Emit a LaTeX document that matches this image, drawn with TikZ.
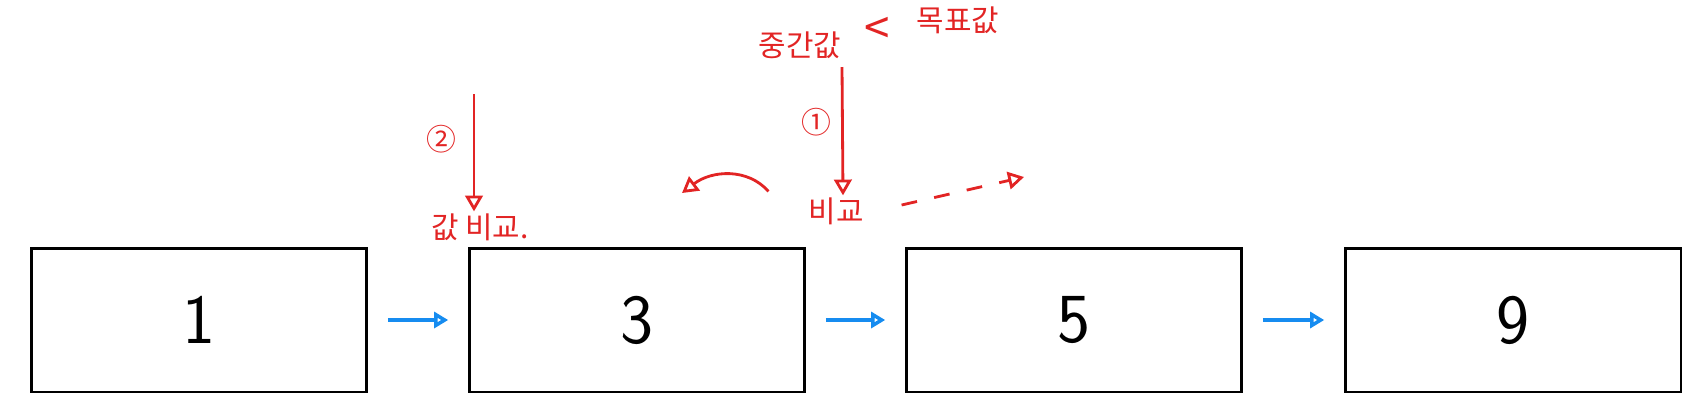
\documentclass[tikz,border=0pt]{standalone}
\usepackage{fontspec}
\newfontfamily\kofont{Noto Sans CJK KR}
\usetikzlibrary{arrows.meta}
\definecolor{penred}{RGB}{226,36,36}
\definecolor{penblue}{RGB}{22,140,240}

\begin{document}
\begin{tikzpicture}[x=0.02cm,y=-0.02cm,
    cell/.style={draw,line width=1.7pt,minimum width=6.72cm,minimum height=2.88cm,
                 inner sep=0pt,font=\sffamily\fontsize{40}{40}\selectfont},
    link/.style={penblue,line width=2pt,-{Triangle[open,length=8pt,width=9pt]},
                 shorten <=11pt,shorten >=11pt},
    note/.style={penred,font=\kofont\fontsize{17}{17}\selectfont,inner sep=1pt},
    pen/.style={penred,line width=1.6pt,-{Triangle[open,length=9pt,width=10pt]}}]
            \useasboundingbox (0,0) rectangle (1702,414);

            \foreach \v/\x [count=\i] in {1/199,3/637,5/1074,9/1513}{
                \node[cell] (n\i) at (\x,320) {\v};
            }
            \foreach \i [evaluate=\i as \j using int(\i+1)] in {1,2,3}{
                \draw[link] (n\i.east) -- (n\j.west);
            }

            \node[note] (mid) at (800,45) {중간값};
            \node[note,font=\kofont\fontsize{26}{26}\selectfont] (lt) at (877,31) {<};
            \node[note] (goal) at (958,20) {목표값};
            \node[note] (one) at (816,122) {①};
            \node[note] (cmp) at (836,211) {비교};
            \node[note] (two) at (441,139) {②};
            \node[note] (cmp2) at (480,227) {값 비교.};

            \coordinate (top2) at (474,94);
            \coordinate (back) at (682,193);
            \coordinate (next) at (1024,177);

            \draw[pen] (842,67) -- (cmp.north -| 843,0);
            \draw[pen] (top2) -- (cmp2.north -| top2);
            \draw[pen] (cmp.north west) ++(-38,-4) .. controls (748,168) and (712,170) .. (back);
            \draw[pen,dash pattern=on 9pt off 10pt] (cmp.east) ++(36,-6) -- (next);
        \end{tikzpicture}
\end{document}
